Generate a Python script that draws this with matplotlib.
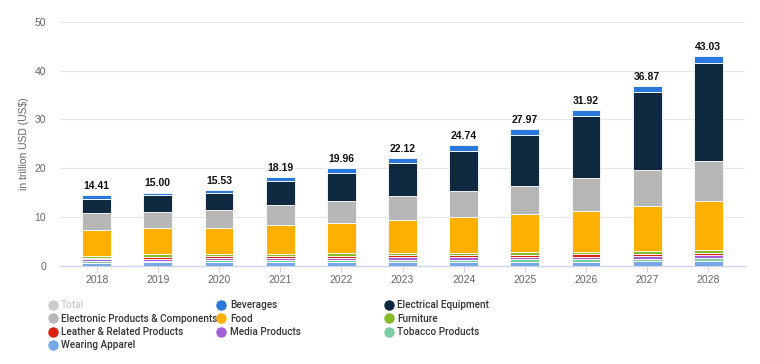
import numpy as np
import matplotlib
matplotlib.use('Agg')
import matplotlib.pyplot as plt
from matplotlib import font_manager
from matplotlib.lines import Line2D


# data (trillion USD), stacked bottom -> top
years = ['2018', '2019', '2020', '2021', '2022', '2023', '2024', '2025', '2026', '2027', '2028']
totals = [14.41, 15.00, 15.53, 18.19, 19.96, 22.12, 24.74, 27.97, 31.92, 36.87, 43.03]

wearing_apparel = [0.60, 0.68, 0.70, 0.74, 0.76, 0.79, 0.80, 0.84, 0.86, 0.92, 1.00]
tobacco = [0.35, 0.38, 0.40, 0.42, 0.43, 0.45, 0.46, 0.48, 0.49, 0.52, 0.55]
media = [0.33, 0.38, 0.40, 0.42, 0.43, 0.45, 0.46, 0.48, 0.49, 0.52, 0.55]
leather = [0.32, 0.38, 0.40, 0.42, 0.43, 0.45, 0.46, 0.48, 0.49, 0.52, 0.55]
furniture = [0.40, 0.48, 0.50, 0.50, 0.50, 0.51, 0.52, 0.57, 0.57, 0.62, 0.65]
food = [5.31, 5.35, 5.38, 5.94, 6.31, 6.67, 7.19, 7.72, 8.32, 9.07, 9.93]
electronic = [3.40, 3.40, 3.75, 4.00, 4.45, 4.95, 5.50, 5.80, 6.70, 7.40, 8.30]
electrical = [2.90, 3.40, 3.30, 4.85, 5.70, 6.70, 8.20, 10.50, 12.80, 16.00, 20.00]
beverages = [0.80, 0.55, 0.70, 0.90, 0.95, 1.15, 1.15, 1.10, 1.20, 1.30, 1.50]

series = [
    ('Wearing Apparel', wearing_apparel, '#77a7e5'),
    ('Tobacco Products', tobacco, '#7ccba1'),
    ('Media Products', media, '#a35dd6'),
    ('Leather & Related Products', leather, '#dd210f'),
    ('Furniture', furniture, '#86bb2c'),
    ('Food', food, '#feb000'),
    ('Electronic Products & Components', electronic, '#b7b7b7'),
    ('Electrical Equipment', electrical, '#0f2941'),
    ('Beverages', beverages, '#2a77dd'),
]
colors = {name: c for name, _, c in series}

# legend layout as in the reference (column by column)
legend_cols = [
    ['Total', 'Electronic Products & Components', 'Leather & Related Products', 'Wearing Apparel'],
    ['Beverages', 'Food', 'Media Products'],
    ['Electrical Equipment', 'Furniture', 'Tobacco Products'],
]


def pick_font(names):
    for n in names:
        try:
            font_manager.findfont(n, fallback_to_default=False)
            return n
        except Exception:
            continue
    return 'DejaVu Sans'


base_font = pick_font(['Liberation Sans', 'DejaVu Sans'])
legend_font = pick_font(['Roboto', 'Liberation Sans', 'DejaVu Sans'])
plt.rcParams['font.family'] = [base_font, 'DejaVu Sans']

fig = plt.figure(figsize=(7.6, 3.64), dpi=100)
ax = fig.add_axes([60 / 760, 1 - 265.7 / 364, 685 / 760, (265.7 - 22) / 364])

x = np.arange(len(years))
bottom = np.zeros(len(years))
for name, vals, c in series:
    vals = np.array(vals)
    ax.bar(x, vals, 0.47, bottom=bottom, color=c, edgecolor='white',
           linewidth=0.6, zorder=3)
    bottom += vals

for xi, t in zip(x, totals):
    ax.annotate('%.2f' % t, (xi, bottom[xi]), xytext=(0, 3),
                textcoords='offset points', ha='center', va='bottom',
                fontsize=7.5, fontweight='bold', color='#111111')

ax.set_xlim(-0.6, len(years) - 0.4)
ax.set_ylim(0, 50)
ax.set_yticks(np.arange(0, 51, 10))
ax.set_xticks(x)
ax.set_xticklabels(years)
ax.grid(axis='y', color='#e6e6e6', linewidth=0.8, zorder=0)
for s in ['top', 'right', 'left']:
    ax.spines[s].set_visible(False)
ax.spines['bottom'].set_color('#ccd6eb')
ax.spines['bottom'].set_linewidth(1.0)
ax.tick_params(axis='y', length=0, pad=10, labelsize=7.5, labelcolor='#666666')
ax.tick_params(axis='x', length=4, width=0.8, color='#ccd6eb', pad=3,
               labelsize=7.5, labelcolor='#666666')
ax.set_ylabel('in trillion USD (US$)', fontsize=7.5, color='#666666', labelpad=4)

# legend, three separate columns
col_left = [(52.7 - 4.2) / 760, (221.7 - 4.2) / 760, (389 - 4.2) / 760]
for left, names in zip(col_left, legend_cols):
    handles = []
    for n in names:
        mc = '#cccccc' if n == 'Total' else colors[n]
        handles.append(Line2D([], [], linestyle='none', marker='o',
                              markersize=6.5, markerfacecolor=mc,
                              markeredgecolor=mc))
    leg = fig.legend(handles, names, loc='upper left',
                     bbox_to_anchor=(left, 1 - 300.5 / 364), frameon=False,
                     borderpad=0, borderaxespad=0, handlelength=0.8,
                     handletextpad=0.45, labelspacing=0.33,
                     prop={'family': legend_font, 'size': 7.2, 'weight': 'medium'})
    for n, txt in zip(names, leg.get_texts()):
        txt.set_color('#cccccc' if n == 'Total' else '#333333')

fig.savefig('out.png', dpi=100)
